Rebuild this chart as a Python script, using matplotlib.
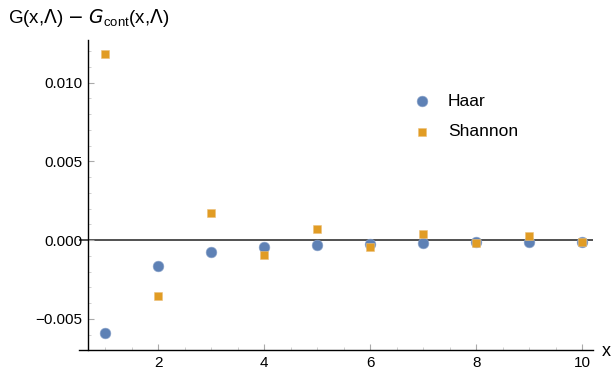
import numpy as np
import matplotlib
matplotlib.use("Agg")
import matplotlib.pyplot as plt
from matplotlib.ticker import MultipleLocator, FixedLocator

plt.rcParams["font.family"] = ["Liberation Sans", "DejaVu Sans"]
plt.rcParams["axes.unicode_minus"] = True

# data
x_vals = [1, 2, 3, 4, 5, 6, 7, 8, 9, 10]
haar = [-0.00588, -0.00165, -0.00078, -0.00046, -0.00030,
        -0.00023, -0.00019, -0.00013, -0.00015, -0.00010]
shannon = [0.0118, -0.00353, 0.00173, -0.00093, 0.00068,
           -0.00042, 0.00036, -0.00021, 0.00025, -0.00010]

HAAR_C = "#5E81B5"
SHANNON_C = "#E19C24"

fig = plt.figure(figsize=(6.16, 3.71), dpi=100)
ax = fig.add_axes([79 / 616, 21 / 371, (593 - 79) / 616, (350 - 40) / 371])

ax.axhline(0, color="#333333", lw=1.2, zorder=1)
ax.scatter(x_vals, haar, s=60, marker="o", color=HAAR_C,
           edgecolors="#8fa6cc", linewidths=0.4, zorder=3, label="Haar")
ax.scatter(x_vals, shannon, s=30, marker="s", color=SHANNON_C,
           edgecolors="#ecc07a", linewidths=0.4, zorder=4, label="Shannon")

ax.set_xlim(0.51, 10.2)
ax.set_ylim(-0.00698, 0.0127)

for s in ("top", "right"):
    ax.spines[s].set_visible(False)
ax.spines["left"].set_position(("data", 0.68))
ax.spines["left"].set_bounds(-0.00698, 0.0127)
for s in ("left", "bottom"):
    ax.spines[s].set_color("black")
    ax.spines[s].set_linewidth(1.0)

ax.xaxis.set_major_locator(FixedLocator([2, 4, 6, 8, 10]))
ax.xaxis.set_minor_locator(MultipleLocator(0.5))
ax.yaxis.set_major_locator(MultipleLocator(0.005))
ax.yaxis.set_minor_locator(MultipleLocator(0.001))
ax.yaxis.set_major_formatter(matplotlib.ticker.FuncFormatter(
    lambda v, p: ("\u2212" if v < -1e-12 else "") + f"{abs(v):.3f}"))

ax.tick_params(which="major", direction="in", length=4, width=0.8,
               color="#aaaaaa", labelsize=11)
ax.tick_params(axis="x", which="major", pad=4)
ax.tick_params(axis="y", which="major", pad=4)
ax.tick_params(which="minor", direction="in", length=2.5, width=0.6,
               color="#c8c8c8")

fig.text(8 / 616, 1 - 18 / 371,
         r"G(x,$\Lambda$) $-$ $G_{\mathregular{cont}}$(x,$\Lambda$)",
         fontsize=13.5, va="center", ha="left")
fig.text(602 / 616, 1 - 352 / 371, "x", fontsize=13, va="center", ha="left")

ax.legend(loc="upper left", bbox_to_anchor=(0.62, 0.85), frameon=False,
          fontsize=12.5, handletextpad=0.5, labelspacing=0.9,
          markerscale=1.0, borderaxespad=0)

fig.savefig("out.png", dpi=100)
